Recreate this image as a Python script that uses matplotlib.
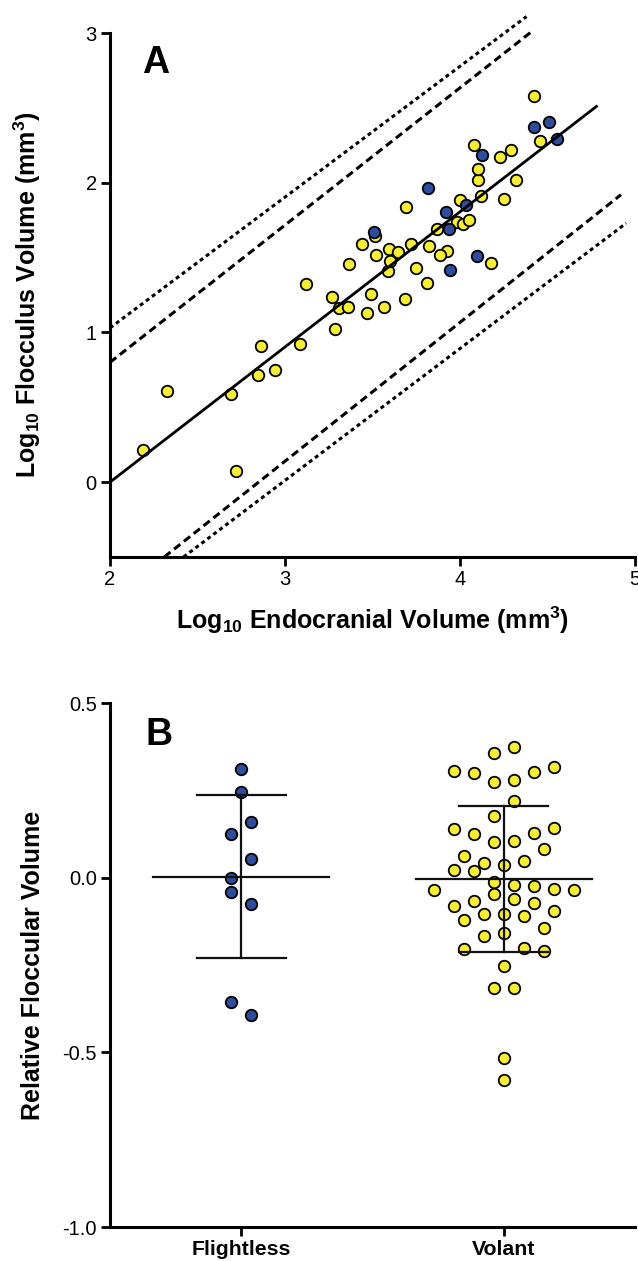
import numpy as np
import matplotlib
matplotlib.use('Agg')
from matplotlib import pyplot as plt

plt.rcParams['font.family'] = ['Liberation Sans', 'DejaVu Sans']
plt.rcParams['mathtext.default'] = 'regular'
plt.rcParams['axes.unicode_minus'] = False

YELLOW = '#f5ee35'
BLUE = '#2d4c9c'

# panel A: log10 endocranial volume vs log10 flocculus volume
volant_ecv = [2.19, 2.327, 2.69, 2.72, 2.843, 2.863, 2.945, 3.086, 3.12, 3.27,
              3.288, 3.31, 3.36, 3.367, 3.47, 3.494, 3.563, 3.686, 3.75, 3.81,
              4.175, 3.59, 3.515, 3.439, 3.72, 3.824, 3.592, 3.647, 3.925, 3.886,
              3.518, 3.602, 3.69, 3.867, 3.984, 4.018, 4.053, 3.998, 4.122, 4.249,
              4.102, 4.102, 4.318, 4.078, 4.229, 4.292, 4.422, 4.459]
volant_flv = [0.218, 0.609, 0.59, 0.073, 0.718, 0.907, 0.747, 0.922, 1.322, 1.24,
              1.024, 1.162, 1.167, 1.458, 1.133, 1.256, 1.169, 1.225, 1.43, 1.331,
              1.462, 1.409, 1.645, 1.589, 1.589, 1.578, 1.56, 1.538, 1.544, 1.516,
              1.518, 1.478, 1.84, 1.689, 1.738, 1.722, 1.751, 1.882, 1.911, 1.893,
              2.02, 2.093, 2.018, 2.251, 2.171, 2.216, 2.578, 2.282]
flightless_ecv = [3.51, 3.818, 3.922, 3.935, 3.941, 4.033, 4.096, 4.127, 4.425, 4.51, 4.557]
flightless_flv = [1.673, 1.962, 1.807, 1.689, 1.418, 1.849, 1.511, 2.184, 2.371, 2.407, 2.289]

# regression line and bands (start x, start y, end x, end y)
fit_line = [2.0, 0.0, 4.78, 2.51]
upper_dash = [2.0, 0.80, 4.41, 3.01]
lower_dash = [2.31, -0.5, 4.92, 1.92]
upper_dot = [2.0, 1.03, 4.38, 3.11]
lower_dot = [2.42, -0.5, 4.95, 1.73]

# panel B: relative floccular volume
groups = ['Flightless', 'Volant']
rel_flightless = [0.31, 0.246, 0.16, 0.124, 0.053, 0.0, -0.041, -0.075, -0.357, -0.394]
rel_volant = [0.374, 0.358, 0.306, 0.301, 0.275, 0.280, 0.304, 0.318, 0.219, 0.176,
              0.141, 0.128, 0.126, 0.139, 0.104, 0.101, 0.081, 0.061, 0.042, 0.035,
              0.048, 0.021, 0.018, -0.011, -0.024, -0.034, -0.046, -0.034, -0.032, -0.022,
              -0.067, -0.082, -0.072, -0.062, -0.110, -0.103, -0.105, -0.094, -0.121, -0.145,
              -0.168, -0.159, -0.202, -0.209, -0.204, -0.252, -0.317, -0.317, -0.517, -0.579]


def style_axes(ax):
    for side in ('top', 'right'):
        ax.spines[side].set_visible(False)
    for side in ('left', 'bottom'):
        ax.spines[side].set_linewidth(2.2)
    ax.tick_params(direction='out', length=6.5, width=2, labelsize=14.5, pad=3)


def column_scatter(ax, center, values, bin_h=0.055, step_px=10.0):
    # prism-like column scatter: group close y values in a row, spread them sideways
    vals = np.asarray(values, dtype=float)
    mean = vals.mean()
    xs = np.zeros(len(vals))
    px_per_x = ax.transData.transform((1, 0))[0] - ax.transData.transform((0, 0))[0]
    step = step_px / px_per_x
    order = list(np.argsort(vals)[::-1])
    while order:
        top = vals[order[0]]
        row = [i for i in order if vals[i] >= top - bin_h]
        order = [i for i in order if i not in row]
        row.sort(key=lambda i: abs(vals[i] - mean))
        n = len(row)
        if n % 2:
            slots = [0]
            for j in range(1, n):
                slots += [-2 * j, 2 * j]
        else:
            slots = []
            for j in range(n):
                slots += [-(2 * j + 1), 2 * j + 1]
        for i, s in zip(row, slots):
            xs[i] = center + s * step
    return xs


fig = plt.figure(figsize=(6.38, 12.61), dpi=100)
ax_a = fig.add_axes([0.1724, 0.5583, 0.8229, 0.4155])
ax_b = fig.add_axes([0.1724, 0.02696, 0.8229, 0.4155])

#####
# A
style_axes(ax_a)
ax_a.set_xlim(2, 5)
ax_a.set_ylim(-0.5, 3)
ax_a.set_xticks([2, 3, 4, 5])
ax_a.set_yticks([0, 1, 2, 3])

mk = dict(marker='o', linestyle='none', ms=8.3, mew=1.3, mec='black')
ax_a.plot(volant_ecv, volant_flv, mfc=YELLOW, zorder=3, **mk)
ax_a.plot(flightless_ecv, flightless_flv, mfc=BLUE, zorder=4, **mk)

def seg(ax, s, **kw):
    ax.plot([s[0], s[2]], [s[1], s[3]], color='black', clip_on=False, **kw)

seg(ax_a, fit_line, lw=2.0, zorder=5)
seg(ax_a, upper_dash, lw=2.2, linestyle=(0, (2.6, 1.5)), zorder=2)
seg(ax_a, lower_dash, lw=2.2, linestyle=(0, (2.6, 1.5)), zorder=2)
seg(ax_a, upper_dot, lw=2.2, linestyle=(0, (1.3, 1.15)), zorder=2)
seg(ax_a, lower_dot, lw=2.2, linestyle=(0, (1.3, 1.15)), zorder=2)

ax_a.set_xlabel('Log$_{10}$ Endocranial Volume (mm$^{3}$)', fontsize=18,
                fontweight='bold', labelpad=11)
ax_a.set_ylabel('Log$_{10}$ Flocculus Volume (mm$^{3}$)', fontsize=18,
                fontweight='bold')
ax_a.yaxis.set_label_coords(-0.128, 0.5)
ax_a.text(0.061, 0.924, 'A', transform=ax_a.transAxes, fontsize=27,
          fontweight='bold', va='baseline')

#####
# B
style_axes(ax_b)
ax_b.set_xlim(-0.5, 1.5)
ax_b.set_ylim(-1.0, 0.5)
ax_b.set_yticks([-1.0, -0.5, 0.0, 0.5])
ax_b.set_yticklabels(['-1.0', '-0.5', '0.0', '0.5'])
ax_b.set_xticks([0, 1])
ax_b.set_xticklabels(groups, fontsize=15.3, fontweight='bold')

for pos, vals, col in ((0, rel_flightless, BLUE), (1, rel_volant, YELLOW)):
    xs = column_scatter(ax_b, pos, vals)
    ax_b.plot(xs, vals, mfc=col, zorder=3, **mk)
    m = np.mean(vals)
    sd = np.std(vals, ddof=1)
    ax_b.plot([pos - 0.335, pos + 0.335], [m, m], color='#111111', lw=1.6, zorder=5)
    ax_b.plot([pos, pos], [m - sd, m + sd], color='#111111', lw=1.6, zorder=5)
    for yy in (m - sd, m + sd):
        ax_b.plot([pos - 0.17, pos + 0.17], [yy, yy], color='#111111', lw=1.6, zorder=5)

ax_b.set_ylabel('Relative Floccular Volume', fontsize=18, fontweight='bold')
ax_b.yaxis.set_label_coords(-0.124, 0.5)
ax_b.text(0.067, 0.92, 'B', transform=ax_b.transAxes, fontsize=27,
          fontweight='bold', va='baseline')

fig.savefig('out.png', dpi=100)
